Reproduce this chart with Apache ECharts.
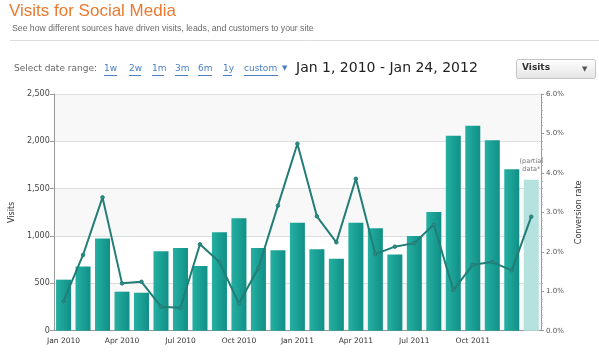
<!DOCTYPE html>
<html><head><meta charset="utf-8">
<script src="https://cdn.jsdelivr.net/npm/echarts@6/dist/echarts.min.js"></script>
<style>html,body{margin:0;padding:0;background:#fff}#c{width:599px;height:352px}</style>
</head><body><div id="c"></div>
<script>
const months = ['Jan 2010','Feb 2010','Mar 2010','Apr 2010','May 2010','Jun 2010','Jul 2010','Aug 2010','Sep 2010','Oct 2010','Nov 2010','Dec 2010',
  'Jan 2011','Feb 2011','Mar 2011','Apr 2011','May 2011','Jun 2011','Jul 2011','Aug 2011','Sep 2011','Oct 2011','Nov 2011','Dec 2011','Jan 2012'];
const visits = [539,677,975,412,401,838,873,683,1039,1187,873,849,1140,859,761,1141,1081,806,1000,1254,2060,2165,2011,1704,1595];
const conversion = [0.75,1.92,3.38,1.20,1.24,0.61,0.58,2.19,1.74,0.69,1.59,3.17,4.74,2.90,2.24,3.85,1.94,2.13,2.22,2.69,1.03,1.67,1.74,1.53,2.89];
const visitsMax = 2500, visitsStep = 500;
const rateMax = 6, rateStep = 1;
const dateLinks = ['1w','2w','1m','3m','6m','1y','custom'];
const dateLinkX = [104,129,152,175,198,223,244];
const dateLinkW = [13,12,12,13,14,9,34];
const titleText = 'Visits for Social Media';
const subtitleText = 'See how different sources have driven visits, leads, and customers to your site';
const rangeText = 'Jan 1, 2010 - Jan 24, 2012';
const partialIndex = visits.length - 1;

const chart = echarts.init(document.getElementById('c'), null, {renderer: 'canvas'});
const barGrad = new echarts.graphic.LinearGradient(0,0,1,0,[{offset:0,color:'#24b0a2'},{offset:1,color:'#118f86'}]);
const barData = visits.map((v,i) => i === partialIndex ? {
  value: v,
  itemStyle: {color: '#b5e2de'},
  label: {show: true, position: 'top', distance: 6, formatter: '(partial\ndata*', fontSize: 6.5, lineHeight: 8, color: '#777', fontFamily: 'DejaVu Sans'}
} : v);

const graphics = [
  {type:'text', left: 9, top: 3, style:{text: titleText, font: '17px "Liberation Sans", Arial', fill:'#ea7a30'}},
  {type:'text', left: 12, top: 24, style:{text: subtitleText, font: '8.7px "Liberation Sans", Arial', fill:'#6a6a6a'}},
  {type:'line', shape:{x1:10, y1:40.5, x2:599, y2:40.5}, style:{stroke:'#dcdcdc', lineWidth:1}},
  {type:'text', left: 14, top: 64, style:{text:'Select date range:', font:'9px "DejaVu Sans"', fill:'#666'}},
  {type:'text', left: 282, top: 65, style:{text:'▼', font:'7px "DejaVu Sans"', fill:'#4a7fc1'}},
  {type:'text', left: 296, top: 61, style:{text: rangeText, font:'14px "DejaVu Sans"', fill:'#222'}},
  {type:'rect', shape:{x:516.5, y:59.5, width:79, height:19, r:2}, style:{fill: new echarts.graphic.LinearGradient(0,0,0,1,[{offset:0,color:'#ffffff'},{offset:1,color:'#e4e4e4'}]), stroke:'#c4c4c4', lineWidth:1}},
  {type:'text', left: 522, top: 63.5, style:{text:'Visits', font:'bold 9px "DejaVu Sans"', fill:'#333'}},
  {type:'text', left: 582, top: 65.5, style:{text:'▼', font:'7px "DejaVu Sans"', fill:'#555'}}
];
dateLinks.forEach((t,i) => {
  graphics.push({type:'text', left: dateLinkX[i], top: 64, style:{text:t, font:'9px "DejaVu Sans"', fill:'#4a7fc1'}});
  graphics.push({type:'line', shape:{x1:dateLinkX[i], y1:75.5, x2:dateLinkX[i]+dateLinkW[i], y2:75.5}, style:{stroke:'#4a7fc1', lineWidth:1}});
});

chart.setOption({
  animation: false,
  backgroundColor: '#fff',
  textStyle: {fontFamily: 'DejaVu Sans'},
  graphic: graphics,
  grid: {left: 52, right: 58, top: 94, height: 236.7, containLabel: false},
  xAxis: {
    type: 'category', data: months, boundaryGap: true,
    axisLine: {lineStyle: {color: '#999'}},
    axisTick: {show: false},
    axisLabel: {interval: (i) => i % 3 === 0 && i < 24, fontSize: 7.5, color: '#333', margin: 6}
  },
  yAxis: [{
    type: 'value', min: 0, max: visitsMax, interval: visitsStep,
    name: 'Visits', nameLocation: 'middle', nameGap: 30, nameTextStyle: {fontSize: 8, color: '#333'},
    axisLine: {show: true, lineStyle: {color: '#999'}},
    axisTick: {show: true, length: 4, lineStyle: {color: '#999'}},
    axisLabel: {fontSize: 8, color: '#444', margin: 4, formatter: v => v.toLocaleString('en-US')},
    splitLine: {lineStyle: {color: '#dedede'}},
    splitArea: {show: true, areaStyle: {color: ['#f8f8f8', '#ffffff']}}
  }, {
    type: 'value', min: 0, max: rateMax, interval: rateStep,
    name: 'Conversion rate', nameLocation: 'middle', nameGap: 28, nameTextStyle: {fontSize: 8, color: '#333'},
    axisLine: {show: true, lineStyle: {color: '#999'}},
    axisTick: {show: true, length: 3, lineStyle: {color: '#999'}},
    minorTick: {show: true, splitNumber: 5, length: 2, lineStyle: {color: '#aaa'}},
    axisLabel: {fontSize: 7, color: '#555', margin: 5, formatter: v => v.toFixed(1) + '%'},
    splitLine: {show: false}
  }],
  series: [{
    type: 'bar', data: barData, barWidth: 15, yAxisIndex: 0,
    itemStyle: {color: barGrad}
  }, {
    type: 'line', data: conversion, yAxisIndex: 1, z: 5,
    symbol: 'circle', symbolSize: 3.5, showSymbol: true,
    lineStyle: {color: '#237d77', width: 2},
    itemStyle: {color: '#2e8a84', borderColor: '#237d77', borderWidth: 1}
  }]
});
</script></body></html>
